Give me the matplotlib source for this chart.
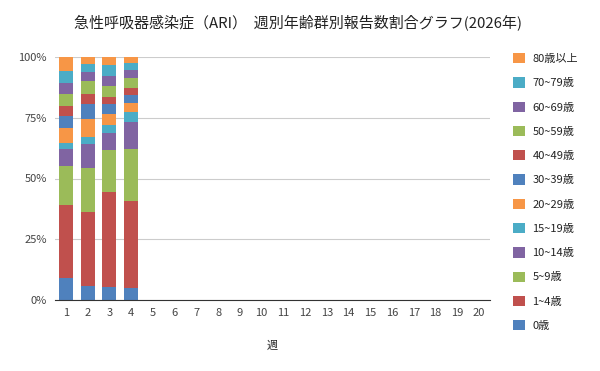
import numpy as np
import matplotlib
matplotlib.use('Agg')
import matplotlib.pyplot as plt
from matplotlib.patches import Patch

plt.rcParams['font.family'] = ['Noto Sans CJK JP', 'DejaVu Sans']

weeks = list(range(1, 21))
age_groups = ['0歳', '1~4歳', '5~9歳', '10~14歳', '15~19歳', '20~29歳',
              '30~39歳', '40~49歳', '50~59歳', '60~69歳', '70~79歳', '80歳以上']
colors = ['#4F81BD', '#C0504D', '#9BBB59', '#8064A2', '#4BACC6', '#F79646',
          '#4F81BD', '#C0504D', '#9BBB59', '#8064A2', '#4BACC6', '#F79646']

# percent share per age group, weeks 1-4 (rest of the year has no data yet)
share_0 = [9.2, 5.8, 5.3, 4.9]
share_1_4 = [29.9, 30.5, 39.1, 35.8]
share_5_9 = [16.0, 18.1, 17.3, 21.4]
share_10_14 = [7.0, 9.9, 7.0, 11.1]
share_15_19 = [2.5, 2.9, 3.3, 4.1]
share_20_29 = [6.2, 7.4, 4.5, 3.7]
share_30_39 = [5.1, 6.2, 4.1, 3.3]
share_40_49 = [4.0, 4.1, 2.9, 2.9]
share_50_59 = [4.9, 5.3, 4.5, 4.1]
share_60_69 = [4.5, 3.7, 4.1, 3.3]
share_70_79 = [4.9, 3.3, 4.5, 2.9]
share_80 = [5.8, 2.9, 3.3, 2.5]

series = [share_0, share_1_4, share_5_9, share_10_14, share_15_19, share_20_29,
          share_30_39, share_40_49, share_50_59, share_60_69, share_70_79, share_80]

fig = plt.figure(figsize=(6, 3.71), dpi=100)
ax = fig.add_axes([55 / 600, 71 / 371, 435 / 600, 243 / 371])

data = np.array(series, dtype=float)
data = data / data.sum(axis=0) * 100
x = np.arange(1, data.shape[1] + 1)
bottom = np.zeros(data.shape[1])
for vals, c in zip(data, colors):
    ax.bar(x, vals, bottom=bottom, width=0.64, color=c, zorder=2)
    bottom += vals

ax.set_xlim(0.5, 20.5)
ax.set_ylim(0, 100)
ax.set_yticks([0, 25, 50, 75, 100])
ax.set_yticklabels(['0%', '25%', '50%', '75%', '100%'])
ax.set_xticks(weeks)
ax.set_xticklabels([str(w) for w in weeks])
ax.grid(axis='y', color='#CCCCCC', linewidth=0.8, zorder=0)
ax.tick_params(length=0, labelsize=8, colors='#444444', pad=6)
for s in ['top', 'right', 'left']:
    ax.spines[s].set_visible(False)
ax.spines['bottom'].set_color('#333333')
ax.spines['bottom'].set_linewidth(0.8)
ax.set_xlabel('週', fontsize=8, color='#222222', labelpad=16)

fig.text(0.5 * (66 + 530) / 600, 1 - 22 / 371,
         '急性呼吸器感染症（ARI）  週別年齢群別報告数割合グラフ(2026年)',
         ha='center', va='center', fontsize=10.8, color='#222222')

handles = [Patch(facecolor=c, edgecolor='none') for c in colors][::-1]
labels = age_groups[::-1]
fig.legend(handles, labels, loc='upper left', bbox_to_anchor=(503 / 600, 1 - 43 / 371),
           frameon=False, fontsize=8, handlelength=1.05, handleheight=1.05,
           handletextpad=0.7, labelspacing=1.2, labelcolor='#222222')

fig.savefig('out.png', dpi=100)
